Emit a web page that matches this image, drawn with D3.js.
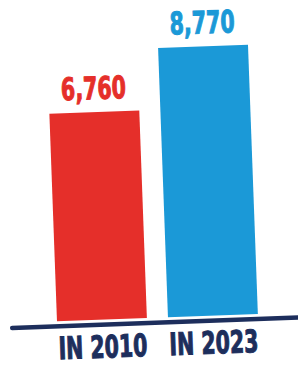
<!DOCTYPE html>
<html>
<head>
<meta charset="utf-8">
<script src="https://cdn.jsdelivr.net/npm/d3@7"></script>
<style>
  html, body { margin: 0; padding: 0; background: #fff; }
  svg { display: block; }
  .lbl { font-family: "DejaVu Sans Condensed", "Liberation Sans Narrow", "Roboto", sans-serif; font-weight: bold; }
</style>
</head>
<body>
<div id="chart"></div>
<script>
// data
const categories = ['IN 2010', 'IN 2023'];
const values = [6760, 8770];
const valueLabels = ['6,760', '8,770'];
const barColors = ['#e52f2a', '#1b99d7'];

const width = 298, height = 366;
const navy = '#1d2e5c';

const svg = d3.select('#chart').append('svg')
  .attr('width', width).attr('height', height);

// the photo is tilted a little, right side up
const g = svg.append('g').attr('transform', 'rotate(-2.1,149,320)');

const x = d3.scaleBand().domain(categories).range([57, 258]).paddingInner(0.19).paddingOuter(0);
const y = d3.scaleLinear().domain([0, d3.max(values)]).range([318, 48.5]);

const data = categories.map((c, i) => ({ cat: c, value: values[i], label: valueLabels[i], color: barColors[i] }));

g.selectAll('.bar').data(data).enter().append('rect')
  .attr('class', 'bar')
  .attr('x', d => x(d.cat))
  .attr('y', d => y(d.value))
  .attr('width', x.bandwidth())
  .attr('height', d => y(0) - y(d.value))
  .style('fill', d => d.color);

// squeeze text horizontally so it looks like the condensed poster type
function condensed(sel, fitWidth) {
  sel.each(function () {
    const t = d3.select(this).select('text');
    const w = t.node().getComputedTextLength();
    t.attr('transform', `scale(${fitWidth / w},1)`);
  });
}

// value labels above bars
const vals = g.selectAll('.val').data(data).enter().append('g')
  .attr('class', 'val')
  .attr('transform', d => `translate(${x(d.cat) + x.bandwidth() / 2},${y(d.value) - 13})`);
vals.append('text')
  .attr('class', 'lbl')
  .attr('text-anchor', 'middle')
  .style('font-size', '31px')
  .style('fill', d => d.color)
  .style('stroke', d => d.color)
  .style('stroke-width', '1px')
  .text(d => d.label);
condensed(vals, 65);

// baseline
g.append('line')
  .attr('x1', 12).attr('x2', 310)
  .attr('y1', 323).attr('y2', 323)
  .style('stroke', navy)
  .style('stroke-width', 4.5)
  .style('stroke-linecap', 'round');

// category labels
const cats = g.selectAll('.cat').data(data).enter().append('g')
  .attr('class', 'cat')
  .attr('transform', d => `translate(${x(d.cat) + x.bandwidth() / 2},356)`);
cats.append('text')
  .attr('class', 'lbl')
  .attr('text-anchor', 'middle')
  .style('font-size', '31px')
  .style('fill', navy)
  .style('stroke', navy)
  .style('stroke-width', '1px')
  .text(d => d.cat);
condensed(cats, 89);
</script>
</body>
</html>
